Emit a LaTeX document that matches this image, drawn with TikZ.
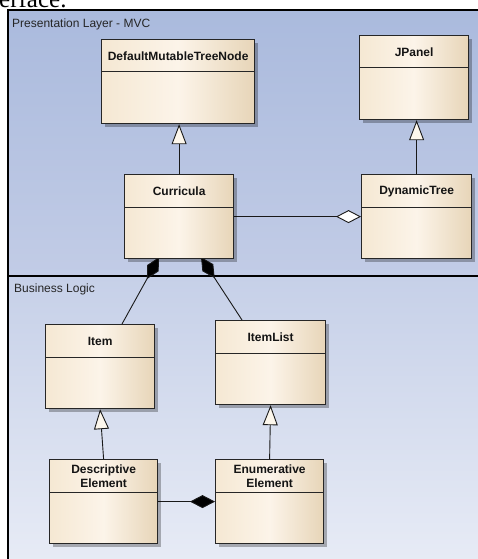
\documentclass[tikz,border=0pt]{standalone}
\usepackage{fontspec}
\setmainfont{Liberation Sans}
\newfontfamily\bodyserif{Liberation Serif}
\usetikzlibrary{arrows.meta,shadows,calc}

\definecolor{layerTop}{HTML}{AABADD}
\definecolor{layerTopEnd}{HTML}{C2CCE6}
\definecolor{logicTop}{HTML}{C6D0E8}
\definecolor{logicEnd}{HTML}{E8ECF6}
\definecolor{boxL}{HTML}{F5E8D3}
\definecolor{boxM}{HTML}{FCF4E9}
\definecolor{boxR}{HTML}{E7D5B8}
\definecolor{tipfill}{HTML}{FDF7EC}

\pgfdeclarelayer{backdrop}
\pgfdeclarelayer{links}
\pgfsetlayers{backdrop,links,main}

\tikzset{
  classbox/.style={draw=black!85, line width=1.2pt,
    left color=boxL, right color=boxR, middle color=boxM,
    minimum width=109pt, minimum height=84pt, inner sep=0pt, anchor=north west,
    drop shadow={shadow xshift=3pt, shadow yshift=-3pt, fill=black, opacity=0.28}},
  classname/.style={font=\fontsize{12}{14.5}\selectfont\bfseries, align=center,
    inner sep=0pt, text=black!92},
  sepline/.style={draw=black!85, line width=1pt},
  conn/.style={draw=black!90, line width=0.9pt},
  inherits/.style={conn, -{Triangle[length=20pt, width=15pt, fill=tipfill]}},
  aggregates/.style={conn, -{Diamond[length=25pt, width=13pt, fill=white]}},
  composes/.style={conn, -{Diamond[length=25pt, width=13pt, fill=black]}},
  layertitle/.style={font=\fontsize{12}{14}\selectfont, anchor=west, inner sep=0pt, text=black!85},
}

% a class box with its name compartment
\newcommand{\umlclass}[5]{% name, x, y, width, label
  \node[classbox, minimum width=#4pt] (#1) at (#2,#3) {};
  \draw[sepline] ($(#1.north west)+(0,33)$) -- ($(#1.north east)+(0,33)$);
  \node[classname] (#1-name) at ($(#1.north)+(0,17)$) {#5};
}

\begin{document}
\begin{tikzpicture}[x=1pt, y=-1pt]
\useasboundingbox (0,0) rectangle (478,559);

% running text above the figure
\node[font=\bodyserif\fontsize{25}{30}\selectfont, anchor=base west, inner sep=0pt]
  (caption) at (-1,8) {erface.};

% package frames
\begin{pgfonlayer}{backdrop}
  \shade[top color=layerTop, bottom color=layerTopEnd] (8,10) rectangle (490,276);
  \shade[top color=logicTop, bottom color=logicEnd] (8,276) rectangle (490,570);
  \draw[line width=1.5pt] (8,570) -- (8,10) -- (490,10);
  \draw[line width=2.2pt] (8,276) -- (490,276);
\end{pgfonlayer}
\node[layertitle] (pres) at (12,24) {Presentation Layer - MVC};
\node[layertitle] (biz) at (14,289) {Business Logic};

% classes
\umlclass{dmtn}{101}{39}{153}{DefaultMutableTreeNode}
\umlclass{jpanel}{359}{35}{109}{JPanel}
\umlclass{curricula}{124}{174}{109}{Curricula}
\umlclass{dyntree}{361}{174}{110}{DynamicTree}
\umlclass{item}{45}{324}{109}{Item}
\umlclass{itemlist}{215}{320}{110}{ItemList}
\umlclass{descr}{49}{459}{108}{Descriptive\\Element}
\umlclass{enumer}{215}{459}{108}{Enumerative\\Element}

% attachment points of the composition links
\coordinate (itemTop) at ($(item.north west)+(77,0)$);
\coordinate (listTop) at ($(itemlist.north west)+(27,0)$);
\coordinate (curL) at ($(curricula.south west)+(35,-2)$);
\coordinate (curR) at ($(curricula.south west)+(77,-2)$);

% relationships
\begin{pgfonlayer}{links}
  \draw[inherits] (curricula.north) -- (curricula.north |- dmtn.south);
  \draw[inherits] (dyntree.north) -- (dyntree.north |- jpanel.south);
  \draw[aggregates] (curricula.east) -- (dyntree.west);
  \draw[composes] (itemTop) -- (curL);
  \draw[composes] (listTop) -- (curR);
  \draw[inherits] (descr.north) -- (item.south);
  \draw[inherits] (enumer.north) -- (itemlist.south);
  \draw[composes] (descr.east) -- (enumer.west);
\end{pgfonlayer}
\end{tikzpicture}
\end{document}
